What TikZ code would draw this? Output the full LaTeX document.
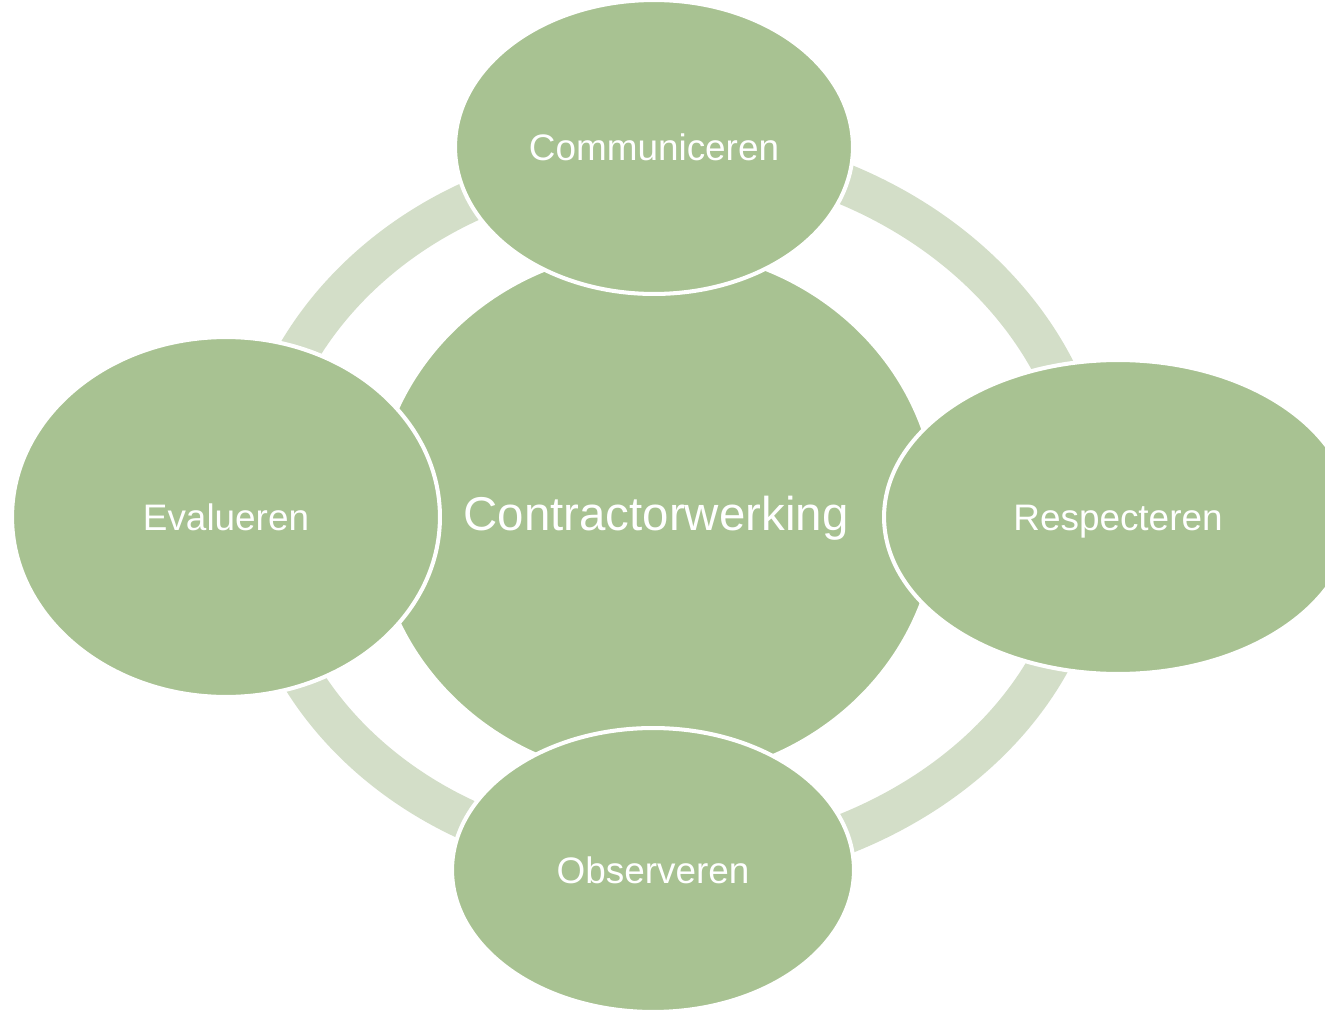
\documentclass[tikz,border=0pt]{standalone}
\usepackage{fontspec}
\setmainfont{Liberation Sans}
\usetikzlibrary{shapes.geometric, backgrounds}
\definecolor{leaf}{RGB}{168,194,146}
\definecolor{leaflight}{RGB}{211,222,200}

\begin{document}
\begin{tikzpicture}[x=0.02cm, y=-0.02cm]
	\def \topy{147}
	\def \midy{517}
	\def \boty{870}
	\tikzstyle{c-node}=[ellipse,fill=leaf,draw=white,line width=2.3pt,inner sep=0pt,text=white,text height=19.3pt,text depth=0pt,font=\fontsize{27}{32}\selectfont]
	\tikzstyle{s-node}=[ellipse,fill=leaf,draw=white,line width=2.3pt,inner sep=0pt,text=white,text height=15pt,text depth=0pt,font=\fontsize{21}{25}\selectfont]
	\tikzstyle{band}=[draw=leaflight,line width=23.2pt]
	\useasboundingbox (0,0) rectangle (1325,1010);

	% centre
	\node[c-node,minimum width=11.28cm,minimum height=10.64cm] (ctr) at (656,514) {Contractorwerking};

	% satellites
	\node[s-node,minimum width=7.96cm,minimum height=5.88cm] (comm) at (654,\topy) {Communiceren};
	\node[s-node,minimum width=9.36cm,minimum height=6.28cm] (resp) at (1118,\midy) {Respecteren};
	\node[s-node,minimum width=8.04cm,minimum height=5.68cm] (obs) at (653,\boty) {Observeren};
	\node[s-node,minimum width=8.56cm,minimum height=7.2cm] (eval) at (226,\midy) {Evalueren};

	% ring
	\begin{pgfonlayer}{background}
	\draw[band] (comm.center) to[out=0,in=90,out distance=4.84cm,in distance=4.06cm] ([xshift=-0.54cm]resp.center);
	\draw[band] (obs.center) to[out=0,in=-90,out distance=4.8cm,in distance=3.92cm] ([xshift=-0.6cm]resp.center);
	\draw[band] ([yshift=0.2cm]obs.center) to[out=180,in=-90,out distance=4.38cm,in distance=3.78cm] ([xshift=0.59cm]eval.center);
	\draw[band] ([yshift=-0.3cm]comm.center) to[out=180,in=90,out distance=4.42cm,in distance=3.92cm] ([xshift=0.53cm]eval.center);
	\end{pgfonlayer}
\end{tikzpicture}
\end{document}
